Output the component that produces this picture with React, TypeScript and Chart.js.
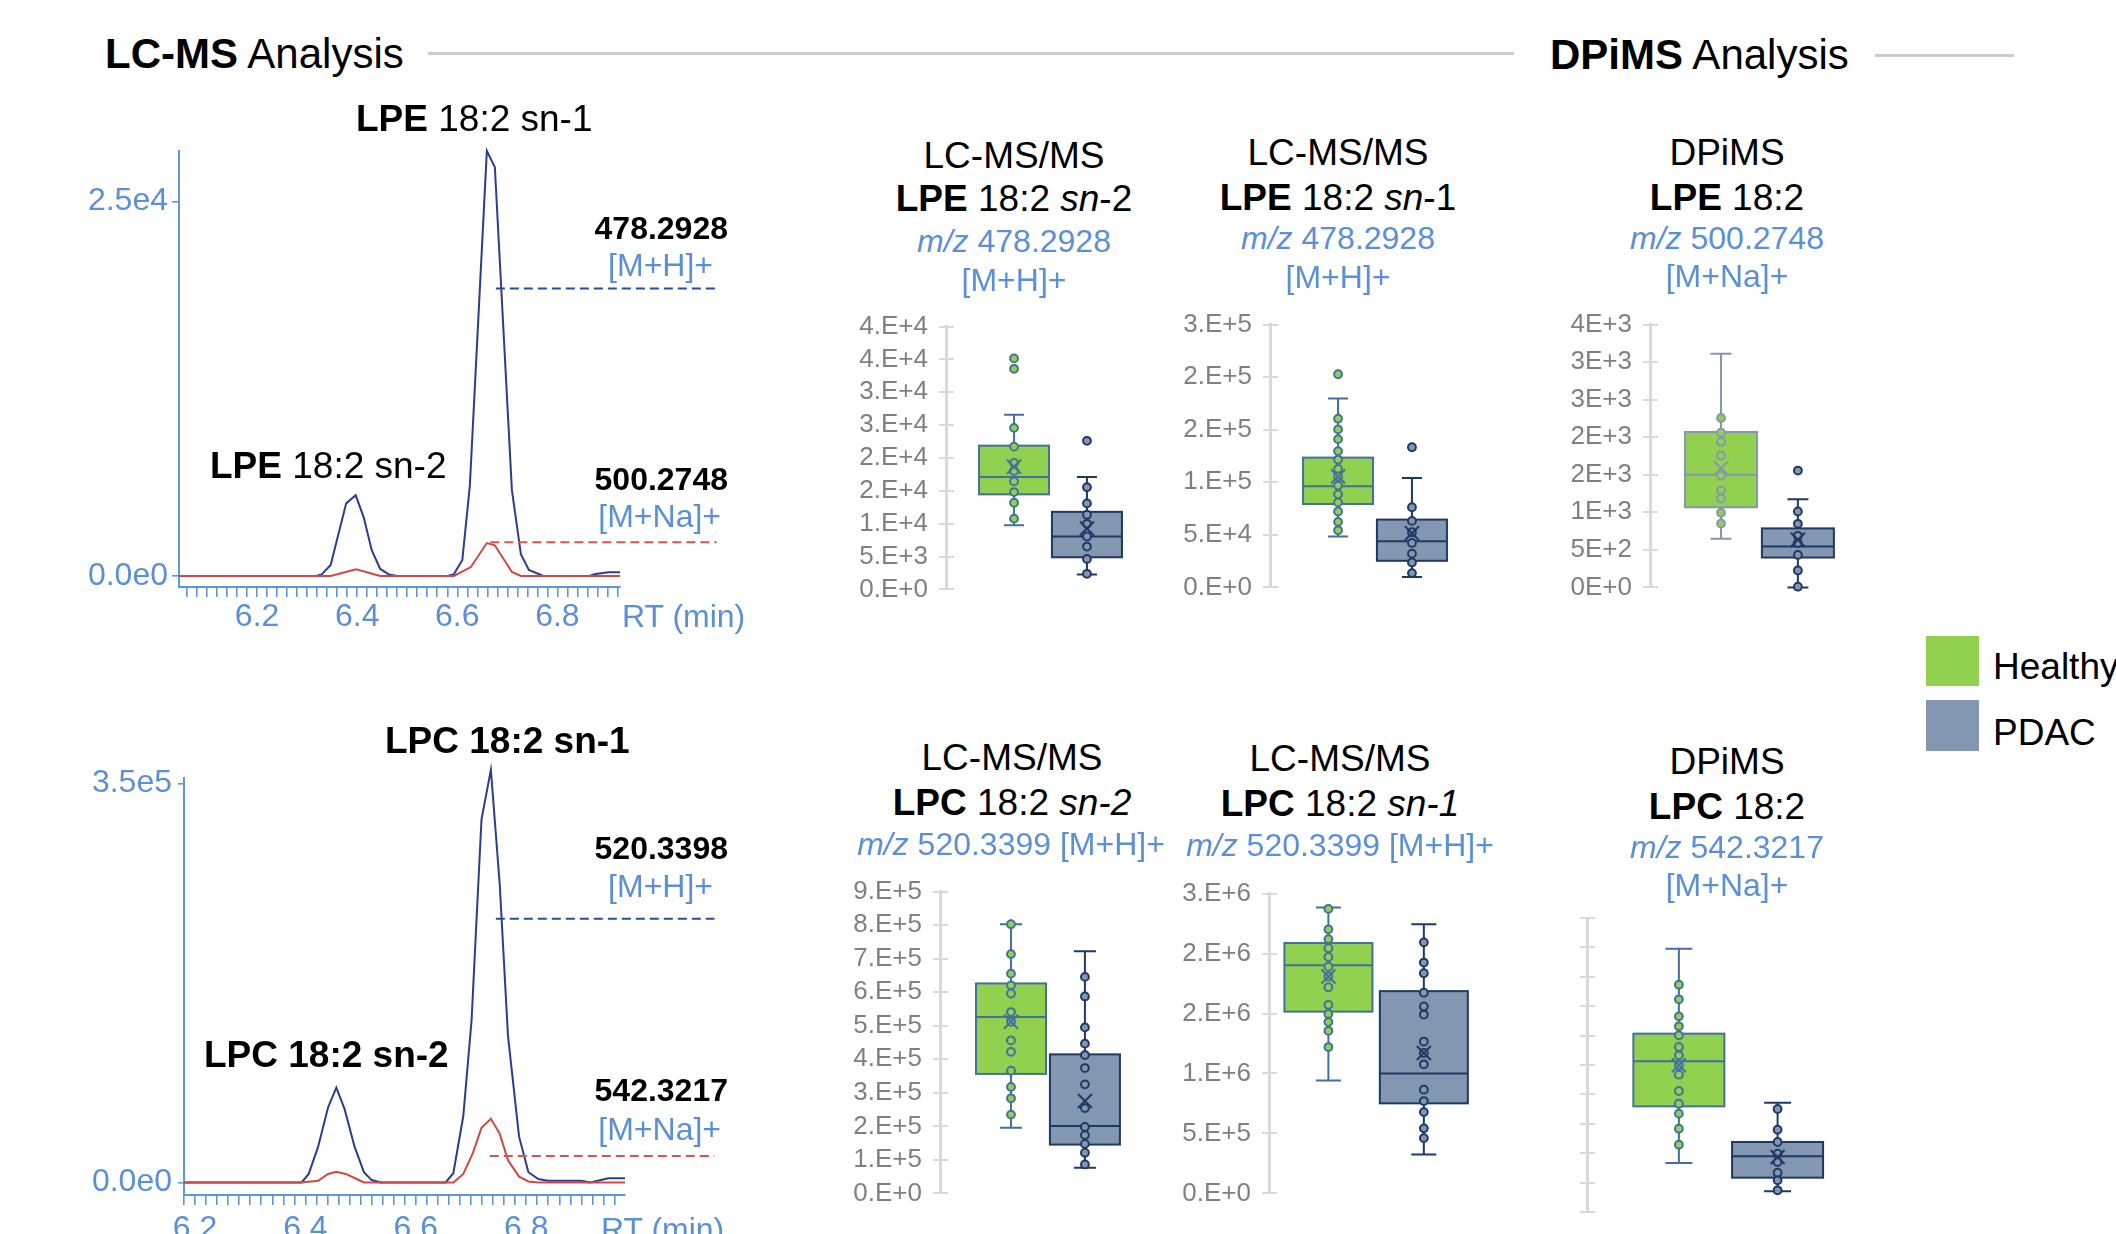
import React, { useEffect, useRef } from "react";
import { Chart, registerables } from "chart.js";

Chart.register(...registerables);

const FONT = '"Liberation Sans", Arial, Helvetica, sans-serif';
Chart.defaults.font.family = FONT;

const TXT_BLUE = "#5b8fd6";
const AXIS_BLUE = "#5f96da";
const LINE_NAVY = "#2c3c8e";
const LINE_RED = "#cf4a42";
const GREEN = "#92d050";
const GREEN_EDGE = "#41719c";
const GREEN_EDGE_DP = "#8497b0";
const PDAC = "#8497b0";
const PDAC_EDGE = "#203864";
const GRAY_AXIS = "#d9d9d9";

// ---------------- Chromatogram data ----------------
// LPE 18:2, m/z 478.2928 [M+H]+
const lpeHRt = [6.044, 6.318, 6.329, 6.347, 6.378, 6.397, 6.413, 6.429, 6.446, 6.463, 6.48, 6.579, 6.593, 6.61, 6.625, 6.659, 6.675, 6.709, 6.727, 6.743, 6.772, 6.864, 6.876, 6.902, 6.925];
const lpeHInt = [0, 0, 110, 740, 4850, 5390, 3920, 1720, 470, 110, 0, 0, 110, 1070, 6020, 28380, 27300, 5750, 1450, 410, 0, 0, 140, 250, 250];
// LPE 18:2, m/z 500.2748 [M+Na]+
const lpeNaRt = [6.044, 6.347, 6.398, 6.446, 6.593, 6.627, 6.659, 6.675, 6.709, 6.727, 6.925];
const lpeNaInt = [0, 0, 450, 0, 0, 600, 2200, 2050, 270, 0, 0];
const lpeLevelVals = [19200, 2250];
const lpeLevelRt = [[6.677, 7.115], [6.666, 7.118]];
const lpeYTickVals = [0, 25000];
const lpeYTickLabels = ["0.0e0", "2.5e4"];

// LPC 18:2, m/z 520.3398 [M+H]+
const lpcHRt = [6.18, 6.393, 6.406, 6.423, 6.441, 6.456, 6.471, 6.489, 6.506, 6.52, 6.537, 6.654, 6.668, 6.686, 6.701, 6.719, 6.736, 6.752, 6.767, 6.787, 6.804, 6.822, 6.839, 6.9, 6.916, 6.949, 6.979];
const lpcHInt = [0, 0, 7500, 31400, 65800, 83150, 64300, 31400, 9000, 2100, 0, 0, 8100, 58300, 142100, 318500, 361900, 261700, 128600, 40400, 9000, 3000, 1500, 1500, 0, 3600, 3600];
// LPC 18:2, m/z 542.3217 [M+Na]+
const lpcNaRt = [6.18, 6.393, 6.423, 6.441, 6.456, 6.473, 6.489, 6.506, 6.668, 6.686, 6.703, 6.719, 6.736, 6.752, 6.767, 6.787, 6.804, 6.822, 6.979];
const lpcNaInt = [0, 0, 1500, 7500, 9300, 7500, 3900, 0, 0, 7500, 25400, 47900, 55900, 42800, 19400, 5100, 900, 0, 0];
const lpcLevelVals = [231200, 23300];
const lpcLevelRt = [[6.745, 7.141], [6.734, 7.141]];
const lpcYTickVals = [0, 350000];
const lpcYTickLabels = ["0.0e0", "3.5e5"];

const rtTickVals = [6.2, 6.4, 6.6, 6.8];
const rtMinorStep = 0.02;

// ---------------- Box plot data ----------------
const groups = ["Healthy", "PDAC"];
// stats order: [min, q1, median, q3, max, mean]
const lpeSn2HealthyStats = [9780, 14470, 17090, 21880, 26570, 18670];
const lpeSn2HealthyPts = [35160, 33580, 24590, 21730, 19260, 18030, 16440, 14820, 13190, 10770];
const lpeSn2PdacStats = [2270, 4890, 8050, 11800, 17090, 9280];
const lpeSn2PdacPts = [22620, 15560, 13090, 11360, 9980, 8050, 6520, 4640, 2370];
const lpeSn2Labels = ["0.E+0", "5.E+3", "1.E+4", "2.E+4", "2.E+4", "3.E+4", "3.E+4", "4.E+4", "4.E+4"];

const lpeSn1HealthyStats = [48460, 79320, 96300, 123460, 179630, 105560];
const lpeSn1HealthyPts = [202780, 160490, 150310, 141050, 129630, 121600, 112650, 105560, 96910, 88580, 80860, 72220, 62350, 54320];
const lpeSn1PdacStats = [9880, 25310, 43830, 64510, 104010, 51540];
const lpeSn1PdacPts = [133330, 76240, 63270, 52470, 42280, 32100, 23770, 13580];
const lpeSn1Labels = ["0.E+0", "5.E+4", "1.E+5", "2.E+5", "2.E+5", "3.E+5"];

const lpeDpHealthyStats = [648, 1067, 1499, 2070, 3111, 1586];
const lpeDpHealthyPts = [2256, 2061, 1940, 1754, 1491, 1292, 1184, 994, 851];
const lpeDpPdacStats = [0, 398, 544, 786, 1175, 635];
const lpeDpPdacPts = [1556, 1011, 847, 687, 592, 432, 225, 9];
const lpeDpLabels = ["0E+0", "5E+2", "1E+3", "2E+3", "2E+3", "3E+3", "3E+3", "4E+3"];

const lpcSn2HealthyStats = [196100, 356300, 526200, 626200, 802900, 511700];
const lpcSn2HealthyPts = [802900, 713600, 655300, 620400, 596100, 540800, 511700, 456300, 422300, 366000, 317500, 283500, 235000];
const lpcSn2PdacStats = [76700, 145600, 201000, 414600, 722300, 275700];
const lpcSn2PdacPts = [645600, 587400, 495100, 446600, 412600, 373800, 325200, 254400, 198100, 173800, 147600, 121400, 86400];
const lpcSn2Labels = ["0.E+0", "1.E+5", "2.E+5", "3.E+5", "4.E+5", "5.E+5", "6.E+5", "7.E+5", "8.E+5", "9.E+5"];

const lpcSn1HealthyStats = [940900, 1515700, 1903500, 2087900, 2383400, 1808600];
const lpcSn1HealthyPts = [2372600, 2201700, 2120400, 2044500, 1971300, 1889900, 1808600, 1719100, 1572700, 1496700, 1429000, 1355700, 1220200];
const lpcSn1PdacStats = [325400, 751100, 1000500, 1686600, 2245100, 1171400];
const lpcSn1PdacPts = [2093300, 1925200, 1835700, 1673000, 1559100, 1491300, 1266300, 1171400, 1076500, 865000, 770100, 677900, 542300, 461000];
const lpcSn1Labels = ["0.E+0", "5.E+5", "1.E+6", "2.E+6", "2.E+6", "3.E+6"];

// DPiMS LPC 18:2 axis carries no labels (relative units, 10 divisions)
const lpcDpHealthyStats = [1.667, 3.594, 5.125, 6.066, 8.957, 4.989];
const lpcDpHealthyPts = [7.732, 7.234, 6.655, 6.315, 6.009, 5.612, 5.329, 4.989, 4.671, 4.116, 3.685, 3.345, 2.834, 2.29];
const lpcDpPdacStats = [0.703, 1.168, 1.893, 2.381, 3.719, 1.871];
const lpcDpPdacPts = [3.503, 2.8, 2.381, 1.984, 1.701, 1.338, 1.077, 0.737];
const lpcDpLabels = ["", "", "", "", "", "", "", "", "", "", ""];

// ---------------- Layout (styles only) ----------------
type ChromLayout = { left: number; right: number; top: number; bottom: number; yTickLen: number; yPad: number; xPad: number };
const CH_Y_W = 140;
const CH_X_H = 60;
const CH_TOP = 40;
const CH_RIGHT = 145;

type BoxLayout = { axisX: number; yTop: number; yBot: number; c0: number; c1: number; boxW: number; capW: number };
const BOX_Y_W = 110;
const BOX_PAD = 30;

function ChartCanvas(props: { left: number; top: number; width: number; height: number; make: (c: HTMLCanvasElement) => Chart }) {
  const ref = useRef<HTMLCanvasElement>(null);
  useEffect(() => {
    const chart = props.make(ref.current as HTMLCanvasElement);
    return () => chart.destroy();
  }, []);
  return (
    <canvas
      ref={ref}
      width={props.width}
      height={props.height}
      style={{ position: "absolute", left: props.left, top: props.top, width: props.width, height: props.height }}
    />
  );
}

function chromRect(l: ChromLayout) {
  return {
    left: l.left - CH_Y_W,
    top: l.top - CH_TOP,
    width: l.right - l.left + CH_Y_W + CH_RIGHT,
    height: CH_TOP + (l.bottom - l.top) + CH_X_H,
  };
}

function makeChrom(
  canvas: HTMLCanvasElement,
  l: ChromLayout,
  traces: { rt: number[]; val: number[]; color: string }[],
  levels: { rt: number[]; val: number; color: string }[],
  xMin: number,
  xMax: number,
  yMin: number,
  yMax: number,
  yTickVals: number[],
  yTickLabels: string[]
) {
  const datasets: any[] = [];
  levels.forEach((lv) => {
    datasets.push({
      data: lv.rt.map((x) => ({ x, y: lv.val })),
      borderColor: lv.color,
      borderWidth: 2,
      borderDash: [9, 5],
      pointRadius: 0,
      clip: false,
    });
  });
  traces.forEach((t) => {
    datasets.push({
      data: t.rt.map((x, i) => ({ x, y: t.val[i] })),
      borderColor: t.color,
      borderWidth: 2,
      pointRadius: 0,
      tension: 0,
      clip: false,
    });
  });
  return new Chart(canvas, {
    type: "line",
    data: { datasets },
    options: {
      responsive: false,
      animation: false,
      events: [],
      layout: { padding: { left: 0, right: CH_RIGHT, top: CH_TOP, bottom: 0 } },
      plugins: { legend: { display: false }, tooltip: { enabled: false } },
      scales: {
        x: {
          type: "linear",
          min: xMin,
          max: xMax,
          afterBuildTicks: (s: any) => {
            const ticks: any[] = [];
            let v = Math.ceil(xMin / rtMinorStep - 1e-6) * rtMinorStep;
            while (v <= xMax + 1e-9) {
              ticks.push({ value: Math.round(v * 1000) / 1000 });
              v += rtMinorStep;
            }
            s.ticks = ticks;
          },
          afterFit: (s: any) => {
            s.height = CH_X_H;
          },
          grid: { drawOnChartArea: false, drawTicks: true, tickLength: 10, color: AXIS_BLUE, lineWidth: 1.6 },
          border: { display: true, color: AXIS_BLUE, width: 2 },
          ticks: {
            autoSkip: false,
            maxRotation: 0,
            minRotation: 0,
            padding: l.xPad,
            color: TXT_BLUE,
            font: { family: FONT, size: 32 },
            callback: (v: any) => {
              const hit = rtTickVals.find((t) => Math.abs(t - Number(v)) < 1e-6);
              return hit === undefined ? "" : hit.toFixed(1);
            },
          },
        },
        y: {
          type: "linear",
          min: yMin,
          max: yMax,
          afterBuildTicks: (s: any) => {
            s.ticks = yTickVals.map((v) => ({ value: v }));
          },
          afterFit: (s: any) => {
            s.width = CH_Y_W;
          },
          grid: { drawOnChartArea: false, drawTicks: true, tickLength: l.yTickLen, color: AXIS_BLUE, lineWidth: 1.6 },
          border: { display: true, color: AXIS_BLUE, width: 2 },
          ticks: {
            autoSkip: false,
            padding: l.yPad,
            color: TXT_BLUE,
            font: { family: FONT, size: 32 },
            callback: (_v: any, i: number) => yTickLabels[i],
          },
        },
      },
    } as any,
  });
}

type BoxPanel = {
  hStats: number[];
  hPts: number[];
  pStats: number[];
  pPts: number[];
  labels: string[];
  step: number;
  hEdge: string;
  showLabels: boolean;
};

function boxRect(l: BoxLayout) {
  const left = l.axisX - BOX_Y_W;
  const right = l.c1 + 70;
  return { left, top: l.yTop - BOX_PAD, width: right - left, height: l.yBot - l.yTop + 2 * BOX_PAD };
}

function makeBox(canvas: HTMLCanvasElement, p: BoxPanel, l: BoxLayout) {
  const unit = l.c1 - l.c0;
  const right = l.c1 + 70;
  const xMin = -(l.c0 - l.axisX) / unit;
  const xMax = xMin + (right - l.axisX) / unit;
  const yMax = (p.labels.length - 1) * p.step;
  const series = [
    { stats: p.hStats, pts: p.hPts, fill: GREEN, edge: p.hEdge },
    { stats: p.pStats, pts: p.pPts, fill: PDAC, edge: PDAC_EDGE },
  ];
  const plugin = {
    id: "boxes",
    beforeDatasetsDraw(chart: any) {
      const { ctx, chartArea } = chart;
      const xs = chart.scales.x;
      const ys = chart.scales.y;
      ctx.save();
      ctx.strokeStyle = GRAY_AXIS;
      ctx.lineWidth = 2;
      ys.ticks.forEach((t: any) => {
        const y = Math.round(ys.getPixelForValue(t.value));
        ctx.beginPath();
        ctx.moveTo(chartArea.left - 7, y);
        ctx.lineTo(chartArea.left + 8, y);
        ctx.stroke();
      });
      series.forEach((s, i) => {
        const cx = xs.getPixelForValue(i);
        const [mn, q1, md, q3, mx] = s.stats;
        const py = (v: number) => ys.getPixelForValue(v);
        ctx.strokeStyle = s.edge;
        ctx.lineWidth = 2;
        ctx.beginPath();
        ctx.moveTo(cx, py(mx));
        ctx.lineTo(cx, py(q3));
        ctx.moveTo(cx, py(q1));
        ctx.lineTo(cx, py(mn));
        ctx.moveTo(cx - l.capW / 2, py(mx));
        ctx.lineTo(cx + l.capW / 2, py(mx));
        ctx.moveTo(cx - l.capW / 2, py(mn));
        ctx.lineTo(cx + l.capW / 2, py(mn));
        ctx.stroke();
        const bx = cx - l.boxW / 2;
        ctx.fillStyle = s.fill;
        ctx.fillRect(bx, py(q3), l.boxW, py(q1) - py(q3));
        ctx.strokeRect(bx, py(q3), l.boxW, py(q1) - py(q3));
        ctx.beginPath();
        ctx.moveTo(bx, py(md));
        ctx.lineTo(bx + l.boxW, py(md));
        ctx.stroke();
      });
      ctx.restore();
    },
    afterDatasetsDraw(chart: any) {
      const { ctx } = chart;
      const xs = chart.scales.x;
      const ys = chart.scales.y;
      ctx.save();
      ctx.lineWidth = 2;
      series.forEach((s, i) => {
        const cx = xs.getPixelForValue(i);
        const cy = ys.getPixelForValue(s.stats[5]);
        const r = 7;
        ctx.strokeStyle = s.edge;
        ctx.beginPath();
        ctx.moveTo(cx - r, cy - r);
        ctx.lineTo(cx + r, cy + r);
        ctx.moveTo(cx + r, cy - r);
        ctx.lineTo(cx - r, cy + r);
        ctx.stroke();
      });
      ctx.restore();
    },
  };
  return new Chart(canvas, {
    type: "scatter",
    data: {
      datasets: series.map((s, i) => ({
        label: groups[i],
        data: s.pts.map((v) => ({ x: i, y: v })),
        backgroundColor: s.fill,
        borderColor: s.edge,
        borderWidth: 2,
        pointRadius: 3.9,
        clip: false,
      })),
    },
    options: {
      responsive: false,
      animation: false,
      events: [],
      layout: { padding: { left: 0, right: 0, top: BOX_PAD, bottom: BOX_PAD } },
      plugins: { legend: { display: false }, tooltip: { enabled: false } },
      scales: {
        x: { type: "linear", display: false, min: xMin, max: xMax },
        y: {
          type: "linear",
          min: 0,
          max: yMax,
          afterBuildTicks: (s: any) => {
            s.ticks = p.labels.map((_, i) => ({ value: i * p.step }));
          },
          afterFit: (s: any) => {
            s.width = BOX_Y_W;
          },
          grid: { display: false, drawTicks: false },
          border: { display: true, color: GRAY_AXIS, width: 3 },
          ticks: {
            display: p.showLabels,
            autoSkip: false,
            padding: 18,
            color: "#808080",
            font: { family: FONT, size: 26 },
            callback: (_v: any, i: number) => p.labels[i],
          },
        },
      },
    } as any,
    plugins: [plugin as any],
  });
}

// ---------------- Text helper ----------------
function T(props: { x: number; y: number; size: number; align?: "left" | "center" | "right"; color?: string; bold?: boolean; children: React.ReactNode }) {
  const a = props.align || "center";
  const tx = a === "center" ? "-50%" : a === "right" ? "-100%" : "0";
  return (
    <div
      style={{
        position: "absolute",
        left: props.x,
        top: props.y,
        transform: `translate(${tx}, -50%)`,
        fontSize: props.size,
        lineHeight: 1,
        color: props.color || "#000",
        fontWeight: props.bold ? "bold" : "normal",
        whiteSpace: "nowrap",
        fontFamily: FONT,
      }}
    >
      {props.children}
    </div>
  );
}

const chromTopLayout: ChromLayout = { left: 179, right: 620, top: 151, bottom: 587, yTickLen: 7, yPad: 4, xPad: 1 };
const chromBotLayout: ChromLayout = { left: 184, right: 625, top: 778, bottom: 1195, yTickLen: 6, yPad: 6, xPad: 5 };

const boxLayouts: BoxLayout[] = [
  { axisX: 946, yTop: 323, yBot: 593, c0: 1016, c1: 1091, boxW: 70, capW: 20 },
  { axisX: 1270, yTop: 321, yBot: 591, c0: 1340, c1: 1416, boxW: 70, capW: 20 },
  { axisX: 1650, yTop: 321, yBot: 591, c0: 1723, c1: 1802, boxW: 72, capW: 21 },
  { axisX: 940, yTop: 888, yBot: 1197, c0: 1013, c1: 1089, boxW: 70, capW: 22 },
  { axisX: 1269, yTop: 890, yBot: 1197, c0: 1330, c1: 1428, boxW: 88, capW: 25 },
  { axisX: 1587, yTop: 918, yBot: 1212, c0: 1681, c1: 1782, boxW: 91, capW: 27 },
];

const boxPanels: BoxPanel[] = [
  { hStats: lpeSn2HealthyStats, hPts: lpeSn2HealthyPts, pStats: lpeSn2PdacStats, pPts: lpeSn2PdacPts, labels: lpeSn2Labels, step: 5000, hEdge: GREEN_EDGE, showLabels: true },
  { hStats: lpeSn1HealthyStats, hPts: lpeSn1HealthyPts, pStats: lpeSn1PdacStats, pPts: lpeSn1PdacPts, labels: lpeSn1Labels, step: 50000, hEdge: GREEN_EDGE, showLabels: true },
  { hStats: lpeDpHealthyStats, hPts: lpeDpHealthyPts, pStats: lpeDpPdacStats, pPts: lpeDpPdacPts, labels: lpeDpLabels, step: 500, hEdge: GREEN_EDGE_DP, showLabels: true },
  { hStats: lpcSn2HealthyStats, hPts: lpcSn2HealthyPts, pStats: lpcSn2PdacStats, pPts: lpcSn2PdacPts, labels: lpcSn2Labels, step: 100000, hEdge: GREEN_EDGE, showLabels: true },
  { hStats: lpcSn1HealthyStats, hPts: lpcSn1HealthyPts, pStats: lpcSn1PdacStats, pPts: lpcSn1PdacPts, labels: lpcSn1Labels, step: 500000, hEdge: GREEN_EDGE, showLabels: true },
  { hStats: lpcDpHealthyStats, hPts: lpcDpHealthyPts, pStats: lpcDpPdacStats, pPts: lpcDpPdacPts, labels: lpcDpLabels, step: 1, hEdge: GREEN_EDGE, showLabels: false },
];

export default function App() {
  const ct = chromRect(chromTopLayout);
  const cb = chromRect(chromBotLayout);
  return (
    <div style={{ position: "absolute", left: 0, top: 0, width: 2116, height: 1234, overflow: "hidden", background: "#fff", fontFamily: FONT }}>
      {/* section headers */}
      <T x={105} y={54} size={42} align="left">
        <b>LC-MS</b> Analysis
      </T>
      <div style={{ position: "absolute", left: 428, top: 52, width: 1086, height: 3, background: "#cccccc" }} />
      <T x={1550} y={55} size={42} align="left">
        <b>DPiMS</b> Analysis
      </T>
      <div style={{ position: "absolute", left: 1875, top: 54, width: 139, height: 3, background: "#cccccc" }} />

      {/* chromatogram top */}
      <ChartCanvas
        {...ct}
        make={(c) =>
          makeChrom(
            c,
            chromTopLayout,
            [
              { rt: lpeNaRt, val: lpeNaInt, color: LINE_RED },
              { rt: lpeHRt, val: lpeHInt, color: LINE_NAVY },
            ],
            [
              { rt: lpeLevelRt[0], val: lpeLevelVals[0], color: "#2f4a9a" },
              { rt: lpeLevelRt[1], val: lpeLevelVals[1], color: "#d9534f" },
            ],
            6.044,
            6.925,
            -734,
            28380,
            lpeYTickVals,
            lpeYTickLabels
          )
        }
      />
      <T x={356} y={118} size={37} align="left">
        <b>LPE</b> 18:2 sn-1
      </T>
      <T x={210} y={465} size={37} align="left">
        <b>LPE</b> 18:2 sn-2
      </T>
      <T x={728} y={228} size={32} align="right" bold>
        478.2928
      </T>
      <T x={713} y={265} size={32} align="right" color={TXT_BLUE}>
        [M+H]+
      </T>
      <T x={728} y={479} size={32} align="right" bold>
        500.2748
      </T>
      <T x={721} y={516} size={32} align="right" color={TXT_BLUE}>
        [M+Na]+
      </T>
      <T x={622} y={616} size={32} align="left" color={TXT_BLUE}>
        RT (min)
      </T>

      {/* chromatogram bottom */}
      <ChartCanvas
        {...cb}
        make={(c) =>
          makeChrom(
            c,
            chromBotLayout,
            [
              { rt: lpcNaRt, val: lpcNaInt, color: LINE_RED },
              { rt: lpcHRt, val: lpcHInt, color: LINE_NAVY },
            ],
            [
              { rt: lpcLevelRt[0], val: lpcLevelVals[0], color: "#2f4a9a" },
              { rt: lpcLevelRt[1], val: lpcLevelVals[1], color: "#d9534f" },
            ],
            6.18,
            6.979,
            -10980,
            354700,
            lpcYTickVals,
            lpcYTickLabels
          )
        }
      />
      <T x={385} y={740} size={37} align="left" bold>
        LPC 18:2 sn-1
      </T>
      <T x={204} y={1054} size={37} align="left" bold>
        LPC 18:2 sn-2
      </T>
      <T x={728} y={848} size={32} align="right" bold>
        520.3398
      </T>
      <T x={713} y={886} size={32} align="right" color={TXT_BLUE}>
        [M+H]+
      </T>
      <T x={728} y={1090} size={32} align="right" bold>
        542.3217
      </T>
      <T x={721} y={1129} size={32} align="right" color={TXT_BLUE}>
        [M+Na]+
      </T>
      <T x={601} y={1229} size={32} align="left" color={TXT_BLUE}>
        RT (min)
      </T>

      {/* box panels */}
      {boxPanels.map((p, i) => {
        const r = boxRect(boxLayouts[i]);
        return <ChartCanvas key={i} {...r} make={(c) => makeBox(c, p, boxLayouts[i])} />;
      })}

      {/* panel titles top row */}
      <T x={1014} y={155} size={37}>LC-MS/MS</T>
      <T x={1014} y={198} size={37}>
        <b>LPE</b> 18:2 <i>sn</i>-2
      </T>
      <T x={1014} y={241} size={32} color={TXT_BLUE}>
        <i>m/z</i> 478.2928
      </T>
      <T x={1014} y={280} size={32} color={TXT_BLUE}>
        [M+H]+
      </T>

      <T x={1338} y={152} size={37}>LC-MS/MS</T>
      <T x={1338} y={197} size={37}>
        <b>LPE</b> 18:2 <i>sn</i>-1
      </T>
      <T x={1338} y={238} size={32} color={TXT_BLUE}>
        <i>m/z</i> 478.2928
      </T>
      <T x={1338} y={277} size={32} color={TXT_BLUE}>
        [M+H]+
      </T>

      <T x={1727} y={152} size={37}>DPiMS</T>
      <T x={1727} y={197} size={37}>
        <b>LPE</b> 18:2
      </T>
      <T x={1727} y={238} size={32} color={TXT_BLUE}>
        <i>m/z</i> 500.2748
      </T>
      <T x={1727} y={276} size={32} color={TXT_BLUE}>
        [M+Na]+
      </T>

      {/* panel titles bottom row */}
      <T x={1012} y={757} size={37}>LC-MS/MS</T>
      <T x={1012} y={802} size={37}>
        <b>LPC</b> 18:2 <i>sn-2</i>
      </T>
      <T x={1011} y={844} size={32} color={TXT_BLUE}>
        <i>m/z</i> 520.3399 [M+H]+
      </T>

      <T x={1340} y={758} size={37}>LC-MS/MS</T>
      <T x={1340} y={803} size={37}>
        <b>LPC</b> 18:2 <i>sn-1</i>
      </T>
      <T x={1340} y={845} size={32} color={TXT_BLUE}>
        <i>m/z</i> 520.3399 [M+H]+
      </T>

      <T x={1727} y={761} size={37}>DPiMS</T>
      <T x={1727} y={806} size={37}>
        <b>LPC</b> 18:2
      </T>
      <T x={1727} y={847} size={32} color={TXT_BLUE}>
        <i>m/z</i> 542.3217
      </T>
      <T x={1727} y={885} size={32} color={TXT_BLUE}>
        [M+Na]+
      </T>

      {/* legend */}
      <div style={{ position: "absolute", left: 1926, top: 636, width: 53, height: 50, background: GREEN }} />
      <T x={1993} y={666} size={37} align="left">
        {groups[0]}
      </T>
      <div style={{ position: "absolute", left: 1926, top: 700, width: 53, height: 51, background: PDAC }} />
      <T x={1993} y={732} size={37} align="left">
        {groups[1]}
      </T>
    </div>
  );
}
